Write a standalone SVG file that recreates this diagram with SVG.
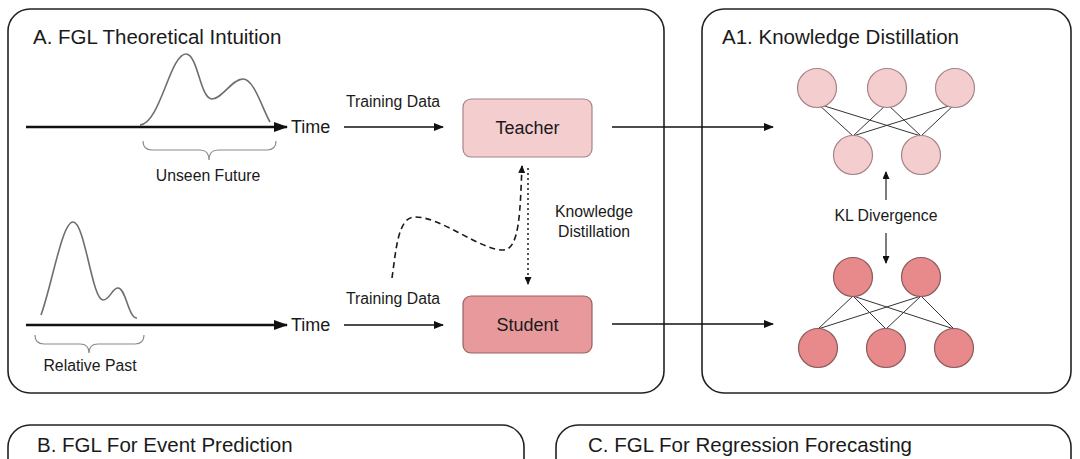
<svg xmlns="http://www.w3.org/2000/svg" width="1080" height="459" viewBox="0 0 1080 459">
<defs>
<style>
text{font-family:"Liberation Sans",Arial,sans-serif;fill:#1a1a1a}
.title{font-size:20.5px}
.big{font-size:18px}
.lbl{font-size:15.8px}
.panel{fill:#fff;stroke:#222;stroke-width:1.6}
.curve{fill:none;stroke:#6e6e6e;stroke-width:1.6}
.brace{fill:none;stroke:#8a8a8a;stroke-width:1.2}
.axis{stroke:#111;stroke-width:2.6;fill:none}
.arr{stroke:#111;stroke-width:1.4;fill:none}
.net{stroke:#333;stroke-width:1}
.t1{fill:#f4cdcf;stroke:#a88486;stroke-width:1.2}
.t2{fill:#e8898c;stroke:#8a5a5c;stroke-width:1.2}
</style>
<marker id="big" markerWidth="14" markerHeight="10" refX="13" refY="5" orient="auto" markerUnits="userSpaceOnUse">
<path d="M0,0 L14,5 L0,10 z" fill="#111"/>
</marker>
<marker id="sm" markerWidth="10" markerHeight="8" refX="9" refY="4" orient="auto" markerUnits="userSpaceOnUse">
<path d="M0,0 L10,4 L0,8 z" fill="#111"/>
</marker>
<marker id="tiny" markerWidth="8" markerHeight="7" refX="7" refY="3.5" orient="auto" markerUnits="userSpaceOnUse">
<path d="M0,0 L8,3.5 L0,7 z" fill="#111"/>
</marker>
</defs>
<rect width="1080" height="459" fill="#fff"/>

<g id="panelA">
<rect class="panel" x="8" y="9" width="656" height="384" rx="22"/>
<text class="title" x="33" y="44">A. FGL Theoretical Intuition</text>
</g>
<g id="panelA1">
<rect class="panel" x="702" y="9" width="369" height="384" rx="22"/>
<text class="title" x="722" y="44">A1. Knowledge Distillation</text>
</g>
<g id="panelB">
<rect class="panel" x="8" y="425" width="516" height="60" rx="22"/>
<text class="title" x="37" y="452">B. FGL For Event Prediction</text>
</g>
<g id="panelC">
<rect class="panel" x="556" y="425" width="515" height="60" rx="22"/>
<text class="title" x="588" y="452">C. FGL For Regression Forecasting</text>
</g>

<g id="futureTimeline">
<path class="curve" d="M140,125 C160,124 170,54 186,54 C198,54 200,99 212,99 C222,99 232,79 243,79 C254,79 262,108 270,122"/>
<line class="axis" x1="26" y1="127" x2="287" y2="127" marker-end="url(#big)"/>
<text class="big" x="291" y="133">Time</text>
<path class="brace" d="M143,141 Q143,150 152,150 L200,150 Q209,150 209,160 Q209,150 218,150 L267,150 Q276,150 276,141"/>
<text class="lbl" x="208" y="181" text-anchor="middle">Unseen Future</text>
</g>

<g id="pastTimeline">
<path class="curve" d="M41,315 C52,285 62,222 73,222 C85,222 92,300 103,300 C110,300 112,288 118,288 C126,288 128,318 137,318"/>
<line class="axis" x1="26" y1="325" x2="287" y2="325" marker-end="url(#big)"/>
<text class="big" x="291" y="331">Time</text>
<path class="brace" d="M35,335 Q35,344 44,344 L80,344 Q89,344 89,353 Q89,344 98,344 L135,344 Q144,344 144,335"/>
<text class="lbl" x="90" y="371" text-anchor="middle">Relative Past</text>
</g>

<g id="teacher">
<rect class="t1" x="463" y="99" width="129" height="58" rx="8"/>
<text class="big" x="527.5" y="134" text-anchor="middle">Teacher</text>
</g>
<g id="student">
<rect fill="#e8999b" stroke="#9a6062" stroke-width="1.2" x="463" y="296" width="129" height="57" rx="8"/>
<text class="big" x="527.5" y="331" text-anchor="middle">Student</text>
</g>

<g id="teacherNet">
<g class="net">
<line x1="818" y1="104" x2="853" y2="136"/><line x1="818" y1="104" x2="921" y2="136"/>
<line x1="887" y1="104" x2="853" y2="136"/><line x1="887" y1="104" x2="921" y2="136"/>
<line x1="955" y1="104" x2="853" y2="136"/><line x1="955" y1="104" x2="921" y2="136"/>
</g>
<circle class="t1" cx="817" cy="88" r="19.5"/>
<circle class="t1" cx="887" cy="88" r="19.5"/>
<circle class="t1" cx="955" cy="88" r="19.5"/>
<circle class="t1" cx="853" cy="155" r="19.5"/>
<circle class="t1" cx="921" cy="155" r="19.5"/>
</g>

<g id="studentNet">
<g class="net">
<line x1="853" y1="296" x2="818" y2="329"/><line x1="853" y1="296" x2="886" y2="329"/><line x1="853" y1="296" x2="954" y2="329"/>
<line x1="921" y1="296" x2="818" y2="329"/><line x1="921" y1="296" x2="886" y2="329"/><line x1="921" y1="296" x2="954" y2="329"/>
</g>
<circle class="t2" cx="853" cy="277" r="19.5"/>
<circle class="t2" cx="921" cy="277" r="19.5"/>
<circle class="t2" cx="818" cy="348" r="19.5" stroke="#5a3334"/>
<circle class="t2" cx="886" cy="348" r="19.5"/>
<circle class="t2" cx="954" cy="348" r="19.5"/>
</g>

<g id="connectors">
<line class="arr" x1="344" y1="127" x2="443" y2="127" marker-end="url(#sm)"/>
<text class="lbl" x="393" y="107" text-anchor="middle">Training Data</text>
<line class="arr" x1="344" y1="325" x2="443" y2="325" marker-end="url(#sm)"/>
<text class="lbl" x="393" y="304" text-anchor="middle">Training Data</text>
<path d="M392,278 C396,250 398,218 414,217 C440,216 480,250 503,250 C520,250 520,210 522,166" fill="none" stroke="#1a1a1a" stroke-width="1.6" stroke-dasharray="6 4" marker-end="url(#tiny)"/>
<line x1="528" y1="168" x2="528" y2="284" stroke="#1a1a1a" stroke-width="1.5" stroke-dasharray="2 3" marker-end="url(#tiny)"/>
<text class="lbl" x="594" y="217" text-anchor="middle">Knowledge</text>
<text class="lbl" x="594" y="237" text-anchor="middle">Distillation</text>
<line class="arr" x1="612" y1="127" x2="773" y2="127" marker-end="url(#sm)"/>
<line class="arr" x1="612" y1="324" x2="773" y2="324" marker-end="url(#sm)"/>
<line x1="886" y1="200" x2="886" y2="172" stroke="#111" stroke-width="1.1" marker-end="url(#tiny)"/>
<text class="lbl" x="886" y="221" text-anchor="middle">KL Divergence</text>
<line x1="886" y1="233" x2="886" y2="263" stroke="#111" stroke-width="1.1" marker-end="url(#tiny)"/>
</g>
</svg>
